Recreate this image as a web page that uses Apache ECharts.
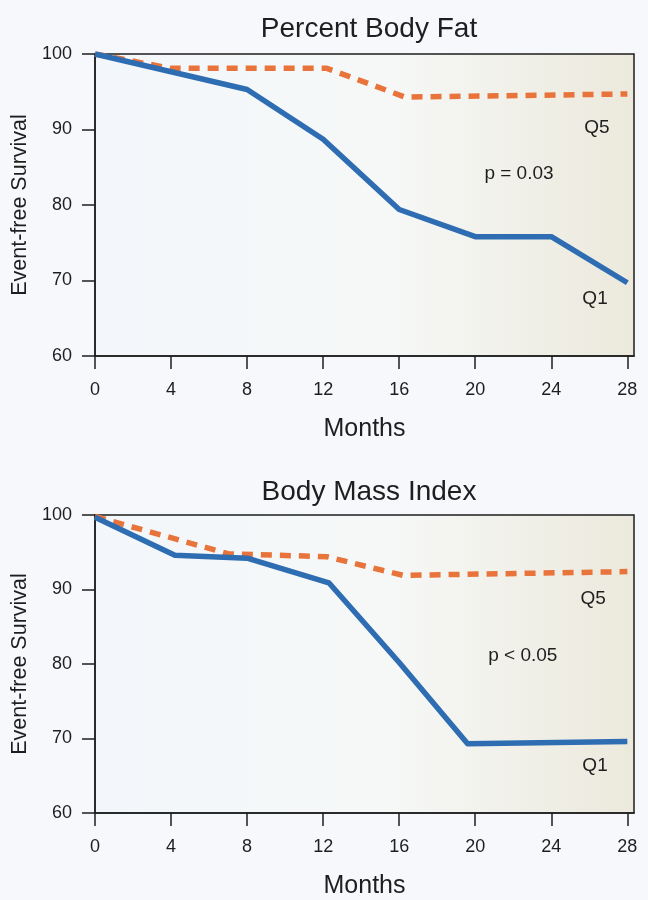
<!DOCTYPE html>
<html><head><meta charset="utf-8">
<script src="https://cdn.jsdelivr.net/npm/echarts@6/dist/echarts.min.js"></script>
<style>html,body{margin:0;padding:0;background:#f6f8fb}#c{width:648px;height:900px}</style>
</head><body><div id="c"></div>
<script>
// ---- data ----
const titles = ['Percent Body Fat', 'Body Mass Index'];
const xTicks = [0, 4, 8, 12, 16, 20, 24, 28];
const yTicks = [60, 70, 80, 90, 100];

const pbfQ1Months = [0, 8, 12, 16, 20, 24, 28];
const pbfQ1Values = [100, 95.3, 88.7, 79.4, 75.8, 75.8, 69.7];
const pbfQ5Months = [0, 4, 12.2, 16.3, 28];
const pbfQ5Values = [100, 98.1, 98.1, 94.3, 94.7];

const bmiQ1Months = [0, 4.2, 8, 12.3, 16, 19.6, 28];
const bmiQ1Values = [99.7, 94.6, 94.2, 90.9, 80.2, 69.3, 69.6];
const bmiQ5Months = [0, 7, 12.2, 16.2, 28];
const bmiQ5Values = [99.8, 94.8, 94.4, 91.9, 92.4];

const pbfNotes = ['Q5', 'p = 0.03', 'Q1'];
const pbfNoteMonths = [26.4, 22.3, 26.3];
const pbfNoteValues = [90.2, 84.1, 67.6];
const bmiNotes = ['Q5', 'p < 0.05', 'Q1'];
const bmiNoteMonths = [26.2, 22.5, 26.3];
const bmiNoteValues = [88.7, 81.1, 66.4];

// ---- chart ----
const FONT = '"Liberation Sans", Arial, Helvetica, sans-serif';
const INK = '#1e1e1e';
const BLUE = '#2f6db3';
const ORANGE = '#e8743b';
const zip = (a, b) => a.map((v, i) => [v, b[i]]);

const bg = new echarts.graphic.LinearGradient(0, 0, 1, 0, [
  {offset: 0, color: '#f3f7fb'},
  {offset: 0.55, color: '#f6f8f7'},
  {offset: 1, color: '#ece9dc'}
]);

function grid(top) {
  return {left: 95, right: 14, top: top, height: 302, show: true,
    borderColor: INK, borderWidth: 1.5, backgroundColor: bg, containLabel: false};
}
function xAxis(i) {
  return {type: 'value', gridIndex: i, min: 0, max: 28.35,
    axisLine: {show: true, onZero: false, lineStyle: {color: INK, width: 1.5}},
    axisTick: {show: true, inside: false, length: 13, customValues: xTicks, lineStyle: {color: INK, width: 1.5}},
    axisLabel: {customValues: xTicks, margin: 25, fontSize: 18, color: INK, fontFamily: FONT},
    splitLine: {show: false},
    name: 'Months', nameLocation: 'middle', nameGap: 61,
    nameTextStyle: {fontSize: 25, color: INK, fontFamily: FONT}};
}
function yAxis(i) {
  return {type: 'value', gridIndex: i, min: 60, max: 100, interval: 10,
    axisLine: {show: true, onZero: false, lineStyle: {color: INK, width: 1.5}},
    axisTick: {show: true, inside: false, length: 13, lineStyle: {color: INK, width: 1.5}},
    axisLabel: {margin: 23, fontSize: 18, color: INK, fontFamily: FONT},
    splitLine: {show: false},
    name: 'Event-free Survival', nameLocation: 'middle', nameGap: 64,
    nameTextStyle: {fontSize: 21.5, color: INK, fontFamily: FONT}};
}
function line(i, months, values, color, dashed) {
  return {type: 'line', xAxisIndex: i, yAxisIndex: i, data: zip(months, values),
    symbol: 'none', showSymbol: false, silent: true, animation: false,
    lineStyle: {color: color, width: 5.5, type: dashed ? [11, 8] : 'solid', cap: 'butt', join: 'round'},
    z: dashed ? 2 : 3};
}
function notes(i, labels, months, values) {
  return {type: 'scatter', xAxisIndex: i, yAxisIndex: i, symbolSize: 0, silent: true, animation: false,
    itemStyle: {color: INK},
    data: months.map((m, k) => ({value: [m, values[k]], name: labels[k]})),
    label: {show: true, position: [0, 0], align: 'center', verticalAlign: 'middle', formatter: p => p.name,
      fontSize: 19, color: INK, opacity: 1, textBorderWidth: 0, fontFamily: FONT}, z: 5};
}

const chart = echarts.init(document.getElementById('c'), null, {renderer: 'canvas'});
chart.setOption({
  backgroundColor: '#f6f8fb',
  animation: false,
  title: [
    {text: titles[0], left: 364, top: 10, textAlign: 'center',
      textStyle: {fontSize: 28, fontWeight: 'normal', color: INK, fontFamily: FONT}},
    {text: titles[1], left: 364, top: 473, textAlign: 'center',
      textStyle: {fontSize: 28, fontWeight: 'normal', color: INK, fontFamily: FONT}}
  ],
  grid: [grid(54), grid(515)],
  xAxis: [xAxis(0), xAxis(1)],
  yAxis: [yAxis(0), yAxis(1)],
  series: [
    line(0, pbfQ5Months, pbfQ5Values, ORANGE, true),
    line(0, pbfQ1Months, pbfQ1Values, BLUE, false),
    line(1, bmiQ5Months, bmiQ5Values, ORANGE, true),
    line(1, bmiQ1Months, bmiQ1Values, BLUE, false),
    notes(0, pbfNotes, pbfNoteMonths, pbfNoteValues),
    notes(1, bmiNotes, bmiNoteMonths, bmiNoteValues)
  ]
});
</script>
</body></html>
